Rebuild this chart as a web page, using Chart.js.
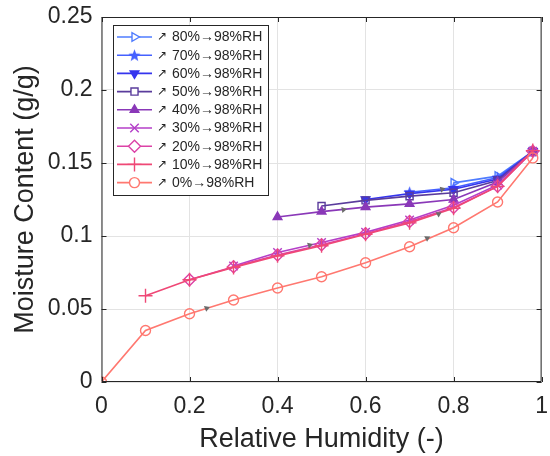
<!DOCTYPE html>
<html>
<head>
<meta charset="utf-8">
<script src="https://cdn.jsdelivr.net/npm/chart.js@4/dist/chart.umd.min.js"></script>
<style>
  html, body { margin: 0; padding: 0; background: #fff; }
  #wrap { width: 550px; height: 456px; }
</style>
</head>
<body>
<div id="wrap"><canvas id="myChart" width="550" height="456"></canvas></div>
<script>
// valores
const rh = [0, 0.1, 0.2, 0.3, 0.4, 0.5, 0.6, 0.7, 0.8, 0.9, 0.98];

const mc80 = [null, null, null, null, null, null, null, null, 0.1364, 0.141, 0.158];
const mc70 = [null, null, null, null, null, null, null, 0.130, 0.133, 0.140, 0.158];
const mc60 = [null, null, null, null, null, null, 0.125, 0.129, 0.132, 0.139, 0.158];
const mc50 = [null, null, null, null, null, 0.1205, 0.1244, 0.1273, 0.1296, 0.138, 0.158];
const mc40 = [null, null, null, null, 0.113, 0.1167, 0.1198, 0.122, 0.125, 0.137, 0.158];
const mc30 = [null, null, null, 0.0795, 0.0887, 0.0955, 0.1025, 0.111, 0.121, 0.135, 0.158];
const mc20 = [null, null, 0.0700, 0.0790, 0.0870, 0.0940, 0.1015, 0.110, 0.1195, 0.134, 0.158];
const mc10 = [null, 0.0591, 0.0700, 0.0785, 0.0864, 0.0933, 0.1012, 0.109, 0.119, 0.134, 0.1585];
const mc0 = [0, 0.0353, 0.0467, 0.0562, 0.0644, 0.0721, 0.0817, 0.0926, 0.1057, 0.1233, 0.1535];

const nomes = ['80%', '70%', '60%', '50%', '40%', '30%', '20%', '10%', '0%'];
const cores = ['#4f7cff', '#4561ff', '#3535ee', '#5a3c9c', '#8a38b8', '#b43fc8', '#dc42a6', '#ef4876', '#ff7870'];

// setas cinzas sobre as curvas
const setaX = [0.239, 0.473, 0.55, 0.74, 0.766, 0.774];
const setaY = [0.0505, 0.0937, 0.118, 0.0985, 0.115, 0.132];
const setaRot = [68, 72, 80, 62, 60, 75];

function estrela(cor, tam) {
  const c = document.createElement('canvas');
  c.width = tam; c.height = tam;
  const g = c.getContext('2d');
  const r = tam / 2, ri = r * 0.42;
  g.beginPath();
  for (let i = 0; i < 10; i++) {
    const a = -Math.PI / 2 + i * Math.PI / 5;
    const rr = i % 2 === 0 ? r : ri;
    g.lineTo(r + rr * Math.cos(a), r + 0.5 + rr * Math.sin(a));
  }
  g.closePath();
  g.fillStyle = cor;
  g.fill();
  return c;
}

const series = [mc80, mc70, mc60, mc50, mc40, mc30, mc20, mc10, mc0];
const estilos = [
  { style: 'triangle', rot: 90, fill: false, r: 5 },
  { style: estrela(cores[1], 13), rot: 0, fill: true, r: 6 },
  { style: 'triangle', rot: 180, fill: true, r: 5 },
  { style: 'rect', rot: 0, fill: false, r: 5 },
  { style: 'triangle', rot: 0, fill: true, r: 5 },
  { style: 'crossRot', rot: 0, fill: false, r: 6 },
  { style: 'rectRot', rot: 0, fill: false, r: 6 },
  { style: 'cross', rot: 0, fill: false, r: 7 },
  { style: 'circle', rot: 0, fill: false, r: 5 }
];

const datasets = series.map((s, i) => ({
  label: '↗ ' + nomes[i] + '→98%RH',
  data: s,
  borderColor: cores[i],
  backgroundColor: estilos[i].fill ? cores[i] : 'rgba(255,255,255,0)',
  borderWidth: 1.6,
  pointStyle: estilos[i].style,
  pointRotation: estilos[i].rot,
  pointRadius: estilos[i].r,
  pointBorderWidth: 1.4,
  pointBorderColor: cores[i],
  pointBackgroundColor: estilos[i].fill ? cores[i] : 'rgba(255,255,255,0)',
  spanGaps: false,
  fill: false,
  order: 9 - i
})).reverse();

datasets.push({
  label: 'seta',
  data: setaX.map((x, i) => ({ x: x, y: setaY[i] })),
  showLine: false,
  pointStyle: 'triangle',
  pointRotation: setaRot,
  pointRadius: 3.5,
  pointBorderWidth: 0,
  pointBackgroundColor: '#6b6b6b',
  borderColor: '#6b6b6b',
  order: 0
});

const fonte = '"Liberation Sans", Arial, sans-serif';

// moldura com ticks para dentro, estilo MATLAB
const moldura = {
  id: 'moldura',
  afterDatasetsDraw(chart) {
    const ctx = chart.ctx;
    const a = chart.chartArea;
    const xs = chart.scales.x, ys = chart.scales.y;
    ctx.save();
    ctx.strokeStyle = '#262626';
    ctx.lineWidth = 1;
    ctx.beginPath();
    ctx.rect(a.left + 0.5, a.top + 0.5, a.right - a.left - 1, a.bottom - a.top - 1);
    xs.ticks.forEach(t => {
      const px = Math.round(xs.getPixelForValue(t.value)) + 0.5;
      ctx.moveTo(px, a.bottom); ctx.lineTo(px, a.bottom - 5);
      ctx.moveTo(px, a.top); ctx.lineTo(px, a.top + 5);
    });
    ys.ticks.forEach(t => {
      const py = Math.round(ys.getPixelForValue(t.value)) + 0.5;
      ctx.moveTo(a.left, py); ctx.lineTo(a.left + 5, py);
      ctx.moveTo(a.right, py); ctx.lineTo(a.right - 5, py);
    });
    ctx.stroke();
    ctx.restore();
  }
};

// legenda desenhada dentro do gráfico
const legenda = {
  id: 'legenda',
  afterDraw(chart) {
    const ctx = chart.ctx;
    const x0 = 113, y0 = 25, w = 155, h = 170;
    ctx.save();
    ctx.fillStyle = '#fff';
    ctx.fillRect(x0, y0, w, h);
    ctx.strokeStyle = '#262626';
    ctx.lineWidth = 1;
    ctx.strokeRect(x0 + 0.5, y0 + 0.5, w, h);
    ctx.textBaseline = 'middle';
    for (let i = 0; i < nomes.length; i++) {
      const y = 37 + i * 18.2;
      ctx.strokeStyle = cores[i];
      ctx.lineWidth = 1.6;
      ctx.beginPath();
      ctx.moveTo(117, y); ctx.lineTo(152, y);
      ctx.stroke();
      ctx.fillStyle = estilos[i].fill ? cores[i] : '#fff';
      ctx.strokeStyle = cores[i];
      ctx.lineWidth = 1.4;
      Chart.helpers.drawPoint(ctx, {
        pointStyle: estilos[i].style,
        rotation: estilos[i].rot,
        radius: estilos[i].r,
        borderWidth: 1.4
      }, 134.5, y);
      ctx.fillStyle = '#262626';
      ctx.font = '12px ' + fonte;
      ctx.fillText('↗', 157, y);
      ctx.font = '14px ' + fonte;
      ctx.fillText(nomes[i] + '→98%RH', 172, y + 0.5);
    }
    ctx.restore();
  }
};

const ctx = document.getElementById('myChart').getContext('2d');

const config = {
  type: 'line',
  data: { labels: rh, datasets: datasets },
  options: {
    responsive: false,
    animation: false,
    layout: { padding: { left: 0, right: 3, top: 17, bottom: 0 } },
    plugins: { legend: { display: false }, tooltip: { enabled: false } },
    scales: {
      x: {
        type: 'linear',
        min: 0,
        max: 1,
        ticks: {
          stepSize: 0.2,
          color: '#262626',
          font: { family: fonte, size: 23 },
          padding: 11,
          maxRotation: 0,
          callback: v => String(Math.round(v * 10) / 10)
        },
        grid: { color: '#e3e3e3', drawTicks: false },
        border: { display: false },
        title: {
          display: true,
          text: 'Relative Humidity (-)',
          color: '#262626',
          font: { family: fonte, size: 27 },
          padding: { top: 0, bottom: 0 }
        },
        afterFit: s => { s.height = 74; s.paddingRight = 0; s.paddingLeft = 0; }
      },
      y: {
        min: 0,
        max: 0.25,
        ticks: {
          stepSize: 0.05,
          color: '#262626',
          font: { family: fonte, size: 23 },
          padding: 9,
          callback: v => String(Math.round(v * 100) / 100)
        },
        grid: { color: '#e3e3e3', drawTicks: false },
        border: { display: false },
        title: {
          display: true,
          text: 'Moisture Content (g/g)',
          color: '#262626',
          font: { family: fonte, size: 27 },
          padding: { top: 9, bottom: 0 }
        },
        afterFit: s => { s.width = 101.5; s.paddingTop = 0; s.paddingBottom = 0; }
      }
    }
  },
  plugins: [moldura, legenda]
};

const myChart = new Chart(ctx, config);
</script>
</body>
</html>
